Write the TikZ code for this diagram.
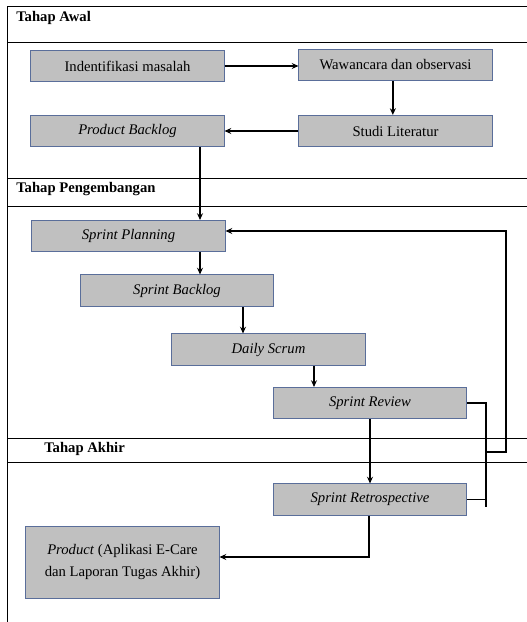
\documentclass[tikz,border=0pt]{standalone}
\usepackage{fontspec}
\setmainfont{Liberation Serif}
\usetikzlibrary{arrows.meta,positioning,calc}

\definecolor{boxfill}{HTML}{C0C0C0}
\definecolor{boxline}{HTML}{5A6E9A}

\tikzset{
    stage/.style={draw=boxline, line width=0.6pt, fill=boxfill, minimum width=145pt, minimum height=23.5pt, inner sep=0pt, align=center, font=\fontsize{11}{13}\selectfont},
    arr/.style={-{Stealth[length=5pt,width=4.5pt]}, line width=1.4pt},
    link/.style={line width=1.4pt},
    lane/.style={line width=0.6pt},
    lanetitle/.style={anchor=west, font=\fontsize{11}{13}\selectfont\bfseries, inner sep=0pt}
}

\begin{document}
\begin{tikzpicture}[x=0.75pt, y=-0.75pt]
        \useasboundingbox (0,0) rectangle (527,622);

        % lanes
        \draw[lane] (7,622) -- (7,6) -- (527,6);
        \foreach \ly in {42,178,206,438,462}
            \draw[lane] (7,\ly) -- (527,\ly);
        \node[lanetitle] (awal) at (16,18) {Tahap Awal};
        \node[lanetitle] (kembang) at (16,189) {Tahap Pengembangan};
        \node[lanetitle] (akhir) at (44,449) {Tahap Akhir};

        % Tahap Awal
        \node[stage] (ident) at (127.5,66) {Indentifikasi masalah};
        \node[stage] (wawan) at (395.5,65) {Wawancara dan observasi};
        \node[stage] (pback) at (127.5,131) {\textit{Product Backlog}};
        \node[stage] (studi) at (395.5,131) {Studi Literatur};

        % Tahap Pengembangan
        \node[stage] (splan) at (128.5,236) {\textit{Sprint Planning}};
        \node[stage] (sback) at (177,290.5) {\textit{Sprint Backlog}};
        \node[stage] (daily) at (268.5,349.5) {\textit{Daily Scrum}};
        \node[stage] (srev) at (370,403) {\textit{Sprint Review}};

        % Tahap Akhir
        \node[stage] (sretro) at (370,499.5) {\textit{Sprint Retrospective}};
        \node[stage, minimum height=54pt, font=\fontsize{11}{16}\selectfont] (product) at (122.5,562)
            {\textit{Product} (Aplikasi E-Care\\dan Laporan Tugas Akhir)};

        \draw[arr] (ident.east) -- (wawan.west |- ident.east);
        \draw[arr] ([xshift=-2pt]wawan.south) -- ([xshift=-2pt]studi.north);
        \draw[arr] (studi.west) -- (pback.east);

        \coordinate (pbout) at (200,147);
        \coordinate (planout) at (200,252);
        \coordinate (backout) at (243,307);
        \coordinate (dailyout) at (314,366);
        \draw[arr] (pbout) -- (pbout |- splan.north);
        \draw[arr] (planout) -- (planout |- sback.north);
        \draw[arr] (backout) -- (backout |- daily.north);
        \draw[arr] (dailyout) -- (dailyout |- srev.north);
        \draw[arr] (srev.south) -- (sretro.north);

        % feedback loop
        \coordinate (joinbot) at (486,507);
        \coordinate (joinmid) at (486,452);
        \coordinate (loopr) at (506,452);
        \draw[link] (srev.east) -| (joinbot);
        \draw[link] (sretro.east) -- (sretro.east -| joinbot);
        \draw[arr] (joinmid) -- (loopr) |- ([yshift=3.75pt]splan.east);

        \draw[arr] ([xshift=-1pt]sretro.south) |- ([yshift=3.75pt]product.east);
    \end{tikzpicture}
\end{document}
